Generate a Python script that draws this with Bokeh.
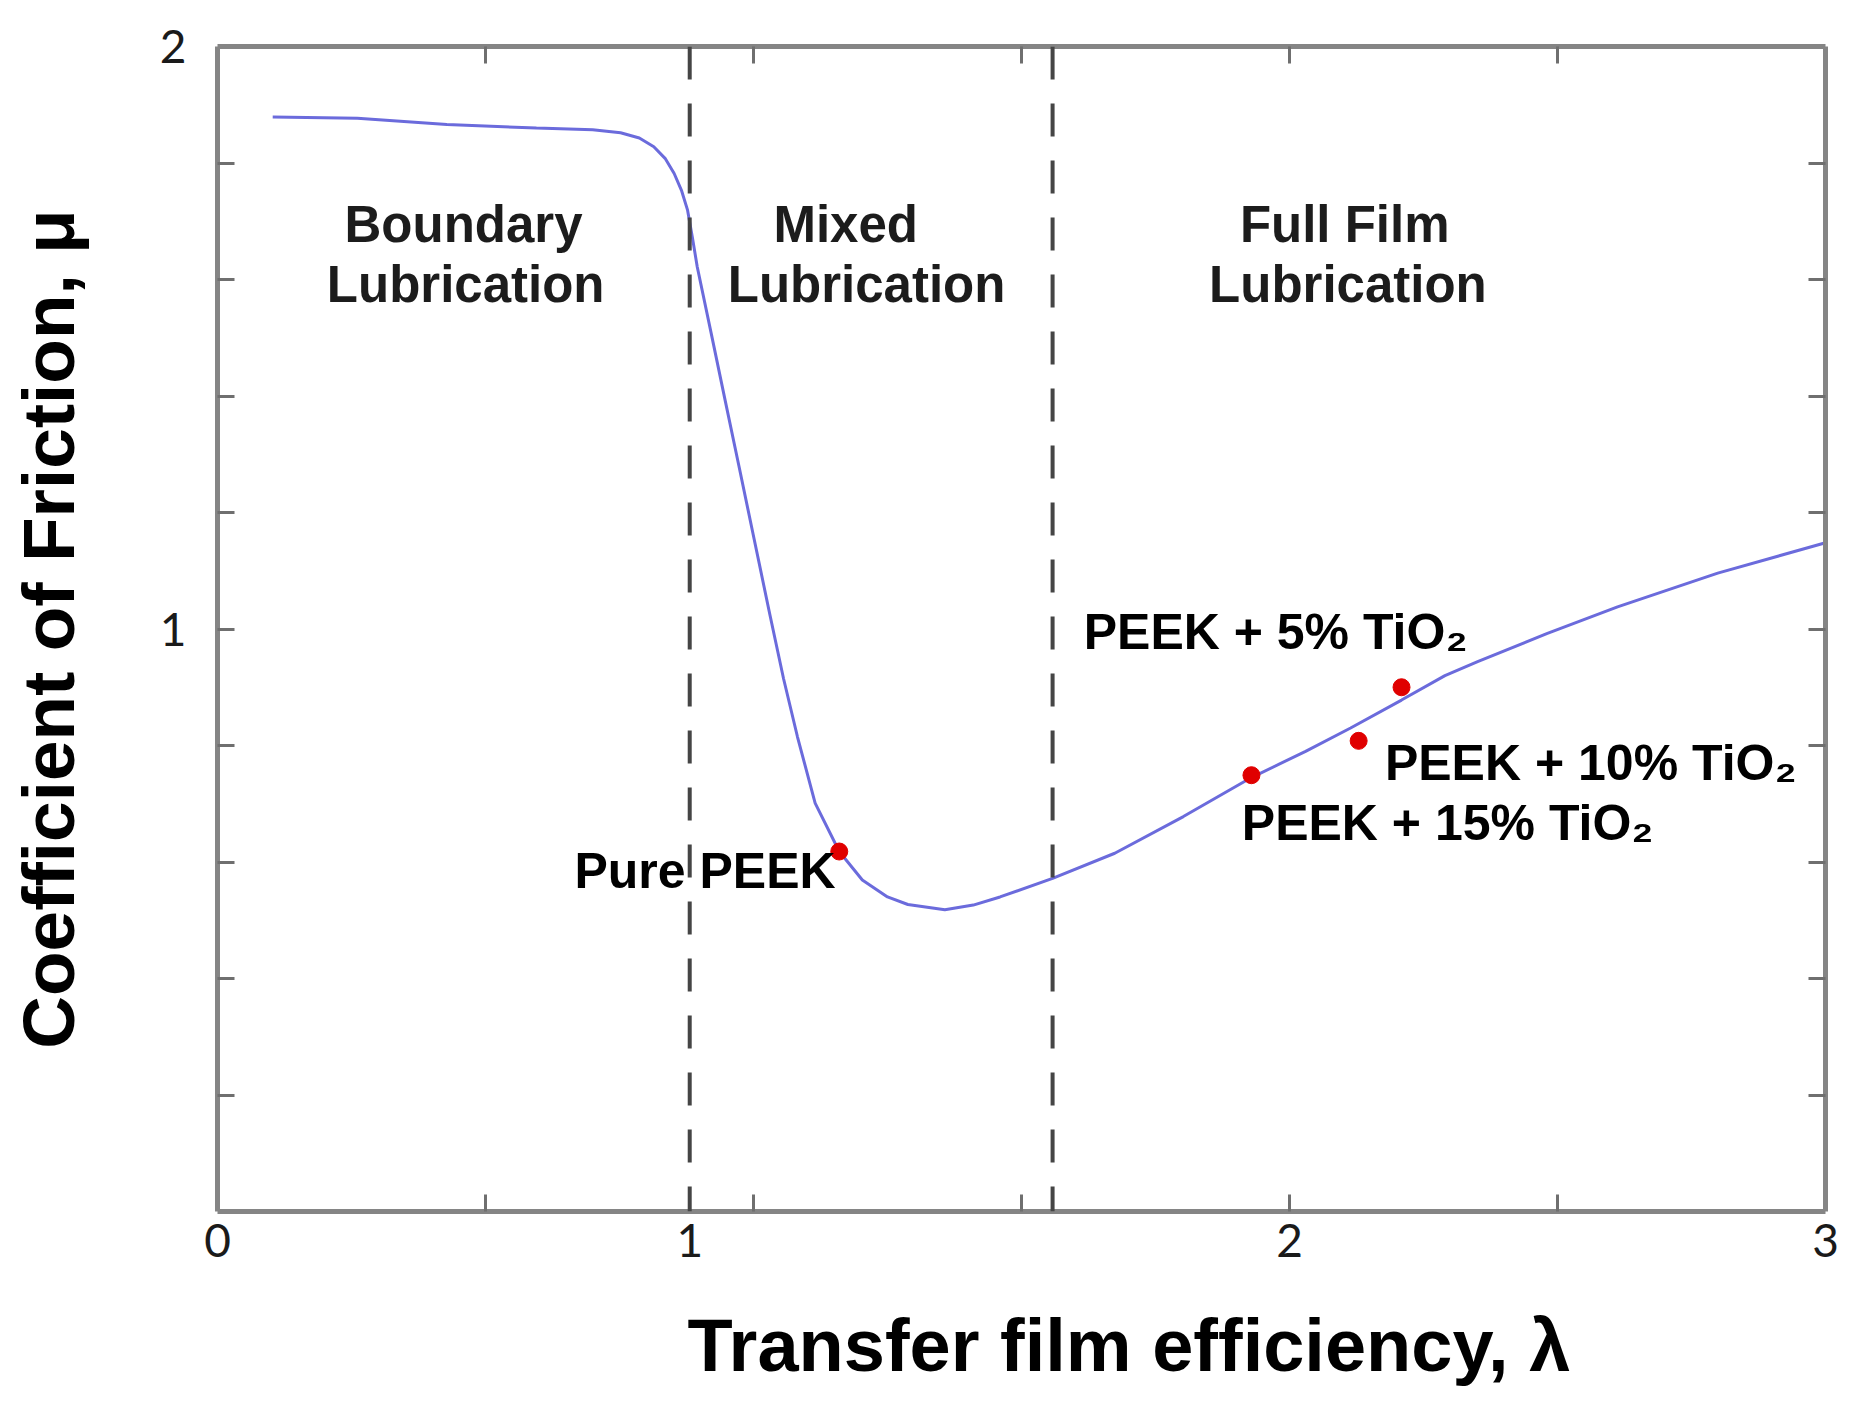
from bokeh.plotting import figure
from bokeh.models import (Range1d, FixedTicker, LinearAxis, Span, Title,
                          ColumnDataSource)
from bokeh.core.properties import value
from bokeh.embed import file_html
from bokeh.resources import INLINE

# ---------------- data ----------------
curve_x = [0.103, 0.261, 0.428, 0.595, 0.700, 0.752, 0.787, 0.814, 0.835, 0.852,
           0.866, 0.877, 0.886, 0.895, 0.921, 0.947, 0.973, 0.999, 1.030,
           1.056, 1.082, 1.115, 1.160, 1.203, 1.250, 1.288, 1.357, 1.410, 1.460,
           1.558, 1.674, 1.802, 1.929, 2.030, 2.114, 2.209, 2.290, 2.351, 2.480,
           2.612, 2.799, 3.000]
curve_y = [1.879, 1.877, 1.866, 1.860, 1.857, 1.852, 1.843, 1.828, 1.808, 1.782,
           1.752, 1.719, 1.672, 1.622, 1.508, 1.393, 1.279, 1.164, 1.027,
           0.915, 0.815, 0.701, 0.618, 0.569, 0.540, 0.527, 0.518, 0.526, 0.540,
           0.572, 0.615, 0.678, 0.745, 0.790, 0.830, 0.878, 0.920, 0.944, 0.992,
           1.038, 1.096, 1.148]

sample_names = ["Pure PEEK", "PEEK + 15% TiO₂", "PEEK + 10% TiO₂", "PEEK + 5% TiO₂"]
sample_x = [1.160, 1.929, 2.129, 2.209]
sample_y = [0.618, 0.749, 0.808, 0.900]

regime_boundaries = [0.881, 1.558]
regime_line1 = ["Boundary", "Mixed", "Full Film"]
regime_line2 = ["Lubrication", "Lubrication", "Lubrication"]

x_tick_values = [0, 0.881, 2, 3]
x_tick_labels = ["0", "1", "2", "3"]
y_tick_values = [1, 2]
y_tick_labels = ["1", "2"]
x_minor = [0.5, 1.0, 1.5, 2.0, 2.5]
y_minor = [0.2, 0.4, 0.6, 0.8, 1.0, 1.2, 1.4, 1.6, 1.8]

x_title = "Transfer film efficiency, λ"
y_title = "Coefficient of Friction, μ"

# ---------------- figure ----------------
p = figure(width=1845, height=1391, output_backend="svg", toolbar_location=None,
           x_range=Range1d(0, 3), y_range=Range1d(0, 2),
           min_border_left=217, min_border_right=20, min_border_top=46,
           min_border_bottom=180)
p.outline_line_color = None
p.grid.visible = False
p.background_fill_color = "white"
p.border_fill_color = "white"

axis_color = "#858585"
tick_font = "Lato"

def style_axis(ax, majors, labels, minors, show_labels=True):
    ax.ticker = FixedTicker(ticks=majors, minor_ticks=minors)
    ax.axis_line_color = axis_color
    ax.axis_line_width = 5
    ax.major_tick_in = 0
    ax.major_tick_out = 0
    ax.minor_tick_in = 17
    ax.minor_tick_out = 0
    ax.minor_tick_line_color = "#6f6f6f"
    ax.minor_tick_line_width = 3
    if show_labels:
        ax.major_label_overrides = {v: l for v, l in zip(majors, labels)}
        ax.major_label_text_font = tick_font
        ax.major_label_text_font_size = "46px"
        ax.major_label_text_color = "#1a1a1a"

xa = p.xaxis[0]
style_axis(xa, x_tick_values, x_tick_labels, x_minor)
xa.major_label_standoff = 12

ya = p.yaxis[0]
style_axis(ya, y_tick_values, y_tick_labels, y_minor)
ya.major_label_standoff = 31
ya.axis_label = y_title
ya.axis_label_text_font = "Liberation Sans"
ya.axis_label_text_font_size = "73px"
ya.axis_label_text_font_style = "bold"
ya.axis_label_text_color = "black"
ya.axis_label_standoff = 68

top_ax = LinearAxis()
style_axis(top_ax, [], [], x_minor, show_labels=False)
p.add_layout(top_ax, "above")
right_ax = LinearAxis()
style_axis(right_ax, [], [], y_minor, show_labels=False)
p.add_layout(right_ax, "right")

# x-axis title (left aligned, shifted right like the reference)
xt = Title(text=x_title, align="left", offset=470, standoff=0,
           text_font="Liberation Sans", text_font_size="74px",
           text_font_style="bold", text_color="black")
if "padding" in Title.properties():
    xt.padding = (0, 0, 42, 0)   # left, right, top, bottom
p.add_layout(xt, "below")

# regime boundaries
for b in regime_boundaries:
    p.add_layout(Span(location=b, dimension="height", line_color="#454545",
                      line_width=4, line_dash="33 24"))

# curve
p.line(curve_x, curve_y, line_color="#6b6bdc", line_width=3)

# sample points
p.scatter(sample_x, sample_y, size=17, color="#e00000", line_color="#e00000")

# regime labels
reg_x1 = [0.459, 1.172, 2.103]
reg_x2 = [0.463, 1.211, 2.109]
reg_src1 = ColumnDataSource(dict(x=reg_x1, y=[1.695] * 3, t=regime_line1))
reg_src2 = ColumnDataSource(dict(x=reg_x2, y=[1.592] * 3, t=regime_line2))
for src in (reg_src1, reg_src2):
    p.text(x="x", y="y", text="t", source=src, text_align="center",
           text_baseline="alphabetic", text_font=value("Liberation Sans"),
           text_font_size="51px", text_font_style="bold", text_color="#1c1c1c")

# sample labels
lab_x = [0.666, 1.911, 2.178, 1.616]
lab_y = [0.585, 0.667, 0.770, 0.994]
lab_src = ColumnDataSource(dict(x=lab_x, y=lab_y, t=sample_names))
p.text(x="x", y="y", text="t", source=lab_src, text_align="left",
       text_baseline="alphabetic", text_font=value("Liberation Sans"),
       text_font_size="50px", text_font_style="bold", text_color="black")

open("out.html", "w").write(file_html(p, INLINE))
